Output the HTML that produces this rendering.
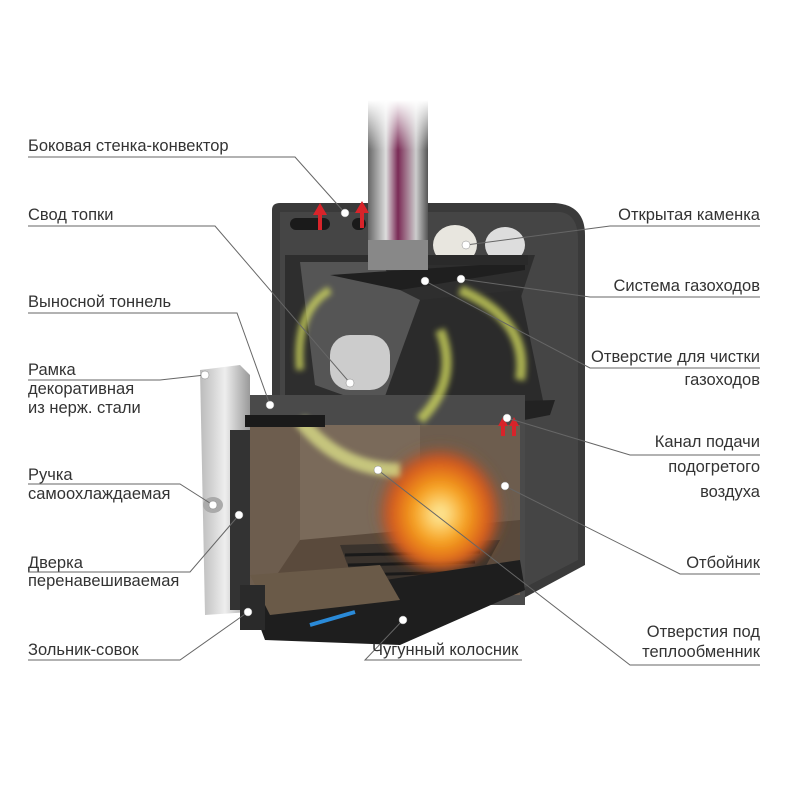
<!DOCTYPE html>
<html><head><meta charset="utf-8"><style>
body{margin:0;background:#fff}
svg{display:block}
text{font-family:"Liberation Sans",sans-serif;font-size:16.5px;fill:#333}
</style></head><body>
<svg width="800" height="800" viewBox="0 0 800 800">
<defs>
<linearGradient id="pipe" x1="0" x2="1"><stop offset="0" stop-color="#666"/><stop offset=".3" stop-color="#ddd"/><stop offset=".5" stop-color="#7a2a55"/><stop offset=".8" stop-color="#ccc"/><stop offset="1" stop-color="#555"/></linearGradient>
<linearGradient id="pipefade" x1="0" y1="0" x2="0" y2="1"><stop offset="0" stop-color="#fff" stop-opacity="1"/><stop offset="1" stop-color="#fff" stop-opacity="0"/></linearGradient>
<radialGradient id="fire" cx=".5" cy=".6" r=".5"><stop offset="0" stop-color="#fff6b0"/><stop offset=".4" stop-color="#f7a21a"/><stop offset=".8" stop-color="#d3501a"/><stop offset="1" stop-color="#7a5a40" stop-opacity="0"/></radialGradient>
<linearGradient id="steel" x1="0" x2="1"><stop offset="0" stop-color="#bbb"/><stop offset=".5" stop-color="#eee"/><stop offset="1" stop-color="#999"/></linearGradient>
<filter id="bl"><feGaussianBlur stdDeviation="6"/></filter>
<filter id="bl2"><feGaussianBlur stdDeviation="3"/></filter>
</defs>
<path d="M272 210 Q272 203 280 203 L555 203 Q585 205 585 235 L585 565 L520 600 L272 600 Z" fill="#3a3a3a"/>
<path d="M280 212 L560 212 Q578 214 578 240 L578 560 L520 590 L280 590Z" fill="#454545"/>
<path d="M285 255 L535 255 L520 300 L520 395 L500 410 L300 410 L285 395Z" fill="#2e2e2e"/>
<path d="M300 262 L380 262 L400 290 L420 300 L420 410 L385 410 L315 385Z" fill="#555"/>
<rect x="330" y="335" width="60" height="55" rx="20" fill="#ccc"/>
<path d="M420 300 L520 290 L545 410 L395 440 L380 410 Z" fill="#2b2b2b"/>
<path d="M380 405 L555 400 L550 415 L395 445Z" fill="#222"/>
<path d="M330 275 L525 262 L525 270 L400 290Z" fill="#1f1f1f"/>
<ellipse cx="455" cy="245" rx="22" ry="20" fill="#e8e6df"/>
<ellipse cx="505" cy="245" rx="20" ry="18" fill="#ddd"/>
<rect x="428" y="255" width="100" height="10" fill="#2a2a2a"/>
<rect x="368" y="100" width="60" height="155" fill="url(#pipe)"/>
<rect x="368" y="100" width="60" height="50" fill="url(#pipefade)"/>
<rect x="368" y="240" width="60" height="30" fill="#888"/>
<rect x="290" y="218" width="40" height="12" rx="6" fill="#1a1a1a"/>
<rect x="352" y="218" width="14" height="12" rx="6" fill="#1a1a1a"/>
<rect x="225" y="395" width="300" height="210" fill="#4a4a4a"/>
<path d="M245 420 L300 420 L300 425 L520 425 L520 595 L245 600Z" fill="#6d5d4e"/>
<path d="M300 425 L420 425 L420 600 L300 600Z" fill="#7a6a5a"/>
<path d="M300 540 L520 520 L520 560 L400 600 L260 600Z" fill="#5a4a3c"/>
<path d="M340 545 L500 540 L470 595 L360 598Z" fill="#3a332d"/>
<g stroke="#1a1a1a" stroke-width="3"><line x1="345" y1="555" x2="480" y2="552"/><line x1="348" y1="565" x2="475" y2="562"/><line x1="352" y1="575" x2="470" y2="572"/><line x1="356" y1="585" x2="465" y2="582"/></g>
<ellipse cx="440" cy="500" rx="65" ry="70" fill="url(#fire)" filter="url(#bl)"/>
<g filter="url(#bl2)" fill="none" opacity=".7">
<path d="M300 420 Q340 470 400 470" stroke="#e6ec8c" stroke-width="14"/>
<path d="M440 330 Q460 380 420 420" stroke="#dfe860" stroke-width="10"/>
<path d="M520 380 Q530 320 460 290" stroke="#dfe860" stroke-width="10"/>
<path d="M300 370 Q295 310 330 290" stroke="#dfe860" stroke-width="8"/>
</g>
<path d="M250 600 L520 560 L525 590 L400 645 L265 640Z" fill="#1e1e1e"/>
<path d="M250 575 L380 565 L400 600 L270 615Z" fill="#6a5a48"/>
<line x1="310" y1="625" x2="355" y2="612" stroke="#2a8ad8" stroke-width="4"/>
<path d="M200 370 L240 365 L250 375 L250 612 L205 615Z" fill="url(#steel)"/>
<rect x="230" y="430" width="20" height="180" fill="#333"/>
<rect x="240" y="585" width="25" height="45" fill="#2a2a2a"/>
<rect x="245" y="415" width="80" height="12" fill="#1a1a1a"/>
<ellipse cx="213" cy="505" rx="10" ry="8" fill="#aaa"/>
<g fill="#d8242a"><path d="M318 215 l-5 0 l7 -12 l7 12 l-5 0 l0 15 l-4 0z"/><path d="M360 213 l-5 0 l7 -12 l7 12 l-5 0 l0 15 l-4 0z"/><path d="M501 426 l-3 0 l5 -9 l5 9 l-3 0 l0 10 l-4 0z"/><path d="M512 426 l-3 0 l5 -9 l5 9 l-3 0 l0 10 l-4 0z"/></g>
<g stroke="#666" stroke-width="1" fill="none">
<polyline points="28,157 295,157 345,213"/>
<polyline points="28,226 215,226 350,383"/>
<polyline points="28,313 237,313 270,405"/>
<polyline points="28,380 160,380 205,375"/>
<polyline points="28,484 180,484 213,505"/>
<polyline points="28,572 190,572 239,515"/>
<polyline points="28,660 180,660 248,612"/>
<polyline points="522,660 365,660 403,620"/>
<polyline points="760,226 610,226 466,245"/>
<polyline points="760,297 590,297 461,279"/>
<polyline points="760,368 590,368 425,281"/>
<polyline points="760,455 630,455 507,418"/>
<polyline points="760,574 680,574 505,486"/>
<polyline points="760,665 630,665 378,470"/>
</g>
<g fill="#fff" stroke="#888" stroke-width=".5">
<circle cx="345" cy="213" r="4"/><circle cx="350" cy="383" r="4"/><circle cx="270" cy="405" r="4"/><circle cx="205" cy="375" r="4"/><circle cx="213" cy="505" r="4"/><circle cx="239" cy="515" r="4"/><circle cx="248" cy="612" r="4"/><circle cx="403" cy="620" r="4"/><circle cx="466" cy="245" r="4"/><circle cx="461" cy="279" r="4"/><circle cx="425" cy="281" r="4"/><circle cx="507" cy="418" r="4"/><circle cx="505" cy="486" r="4"/><circle cx="378" cy="470" r="4"/>
</g>
<text x="28" y="151">Боковая стенка-конвектор</text>
<text x="28" y="220">Свод топки</text>
<text x="28" y="307">Выносной тоннель</text>
<text x="28" y="375">Рамка</text>
<text x="28" y="394">декоративная</text>
<text x="28" y="413">из нерж. стали</text>
<text x="28" y="480">Ручка</text>
<text x="28" y="499">самоохлаждаемая</text>
<text x="28" y="568">Дверка</text>
<text x="28" y="586">перенавешиваемая</text>
<text x="28" y="655">Зольник-совок</text>
<text x="372" y="655">Чугунный колосник</text>
<g text-anchor="end">
<text x="760" y="220">Открытая каменка</text>
<text x="760" y="291">Система газоходов</text>
<text x="760" y="362">Отверстие для чистки</text>
<text x="760" y="385">газоходов</text>
<text x="760" y="447">Канал подачи</text>
<text x="760" y="472">подогретого</text>
<text x="760" y="497">воздуха</text>
<text x="760" y="568">Отбойник</text>
<text x="760" y="637">Отверстия под</text>
<text x="760" y="657">теплообменник</text>
</g>
</svg>
</body></html>
